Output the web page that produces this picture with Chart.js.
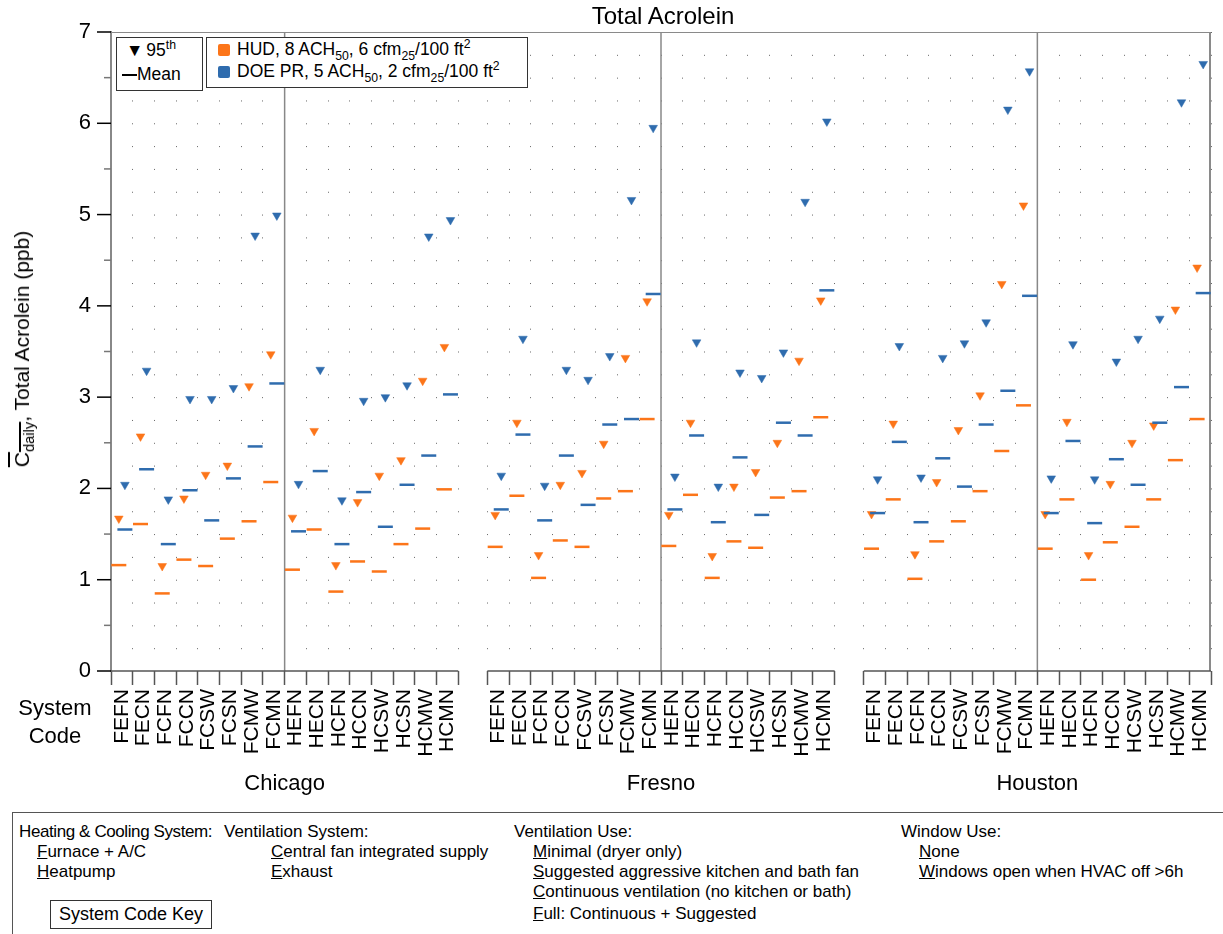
<!DOCTYPE html>
<html>
<head>
<meta charset="utf-8">
<script src="https://cdn.jsdelivr.net/npm/chart.js@4.4.1/dist/chart.umd.min.js"></script>
<style>
  body { margin: 0; background: #fff; font-family: Arial, "Liberation Sans", Helvetica, sans-serif; color: #000; }
  #wrap { position: relative; width: 1223px; height: 934px; overflow: hidden; }
  #chart { position: absolute; left: 0; top: 0; }
  .abs { position: absolute; white-space: nowrap; }
  .lg { position: absolute; border: 1px solid #333; background: #fff; font-size: 17.5px; }
  .sq { position: absolute; width: 12px; height: 12px; border-radius: 2px; }
  #key { position: absolute; left: 12px; top: 812px; width: 1300px; height: 200px;
         border-top: 1px solid #555; border-left: 1px solid #555; font-size: 17px; }
  #key .abs { line-height: 20px; }
  sub, sup { font-size: 70%; line-height: 0; }
</style>
</head>
<body>
<div id="wrap">
  <canvas id="chart" width="1223" height="810"></canvas>

  <div class="abs" style="left:663px; top:2px; transform:translateX(-50%); font-size:24px;">Total Acrolein</div>

  <div class="abs" style="left:22px; top:349px; transform:translate(-50%,-50%) rotate(-90deg); font-size:21px;">
    <span style="text-decoration:overline;">C<sub>daily</sub></span>, Total Acrolein (ppb)</div>

  <div class="lg" style="left:116px; top:37px; width:85px; height:52px;">
    <div class="abs" style="left:9px; top:2px;">&#9660;<span style="margin-left:3px">95<sup>th</sup></span></div>
    <div class="abs" style="left:5px; top:26px;"><span style="display:inline-block; width:15px; height:2px; background:#000; vertical-align:middle;"></span>Mean</div>
  </div>

  <div class="lg" style="left:206px; top:37px; width:320px; height:49px;">
    <div class="sq" style="left:11px; top:6px; background:#FC7519;"></div>
    <div class="abs" style="left:30px; top:1px;">HUD, 8 ACH<sub>50</sub>, 6 cfm<sub>25</sub>/100 ft<sup>2</sup></div>
    <div class="sq" style="left:11px; top:28px; background:#2F6CAE;"></div>
    <div class="abs" style="left:30px; top:23px;">DOE PR, 5 ACH<sub>50</sub>, 2 cfm<sub>25</sub>/100 ft<sup>2</sup></div>
  </div>

  <div class="abs" style="left:55px; top:694px; transform:translateX(-50%); font-size:22px; line-height:28px; text-align:center;">System<br>Code</div>

  <div id="key">
    <div class="abs" style="left:6px; top:9px; letter-spacing:-0.4px;">Heating &amp; Cooling System:</div>
    <div class="abs" style="left:24px; top:29px;"><u>F</u>urnace + A/C</div>
    <div class="abs" style="left:24px; top:49px;"><u>H</u>eatpump</div>
    <div class="abs" style="left:37px; top:87px; border:1px solid #333; padding:3px 8px; font-size:18px; line-height:21px;">System Code Key</div>

    <div class="abs" style="left:211px; top:9px;">Ventilation System:</div>
    <div class="abs" style="left:258px; top:29px;"><u>C</u>entral fan integrated supply</div>
    <div class="abs" style="left:258px; top:49px;"><u>E</u>xhaust</div>

    <div class="abs" style="left:501px; top:9px;">Ventilation Use:</div>
    <div class="abs" style="left:520px; top:29px;"><u>M</u>inimal (dryer only)</div>
    <div class="abs" style="left:520px; top:49px;"><u>S</u>uggested aggressive kitchen and bath fan</div>
    <div class="abs" style="left:520px; top:69px;"><u>C</u>ontinuous ventilation (no kitchen or bath)</div>
    <div class="abs" style="left:520px; top:91px;"><u>F</u>ull: Continuous + Suggested</div>

    <div class="abs" style="left:888px; top:9px;">Window Use:</div>
    <div class="abs" style="left:906px; top:29px;"><u>N</u>one</div>
    <div class="abs" style="left:906px; top:49px;"><u>W</u>indows open when HVAC off &gt;6h</div>
  </div>
</div>

<script>
// ---- data (ppb) ----
const cities = ['Chicago', 'Fresno', 'Houston'];
const codes = ['FEFN', 'FECN', 'FCFN', 'FCCN', 'FCSW', 'FCSN', 'FCMW', 'FCMN',
               'HEFN', 'HECN', 'HCFN', 'HCCN', 'HCSW', 'HCSN', 'HCMW', 'HCMN'];

// HUD, 8 ACH50 (orange)
const chicagoHud95   = [1.67, 2.57, 1.15, 1.89, 2.15, 2.25, 3.12, 3.47, 1.68, 2.63, 1.16, 1.85, 2.14, 2.31, 3.18, 3.55];
const chicagoHudMean = [1.16, 1.61, 0.85, 1.22, 1.15, 1.45, 1.64, 2.07, 1.11, 1.55, 0.87, 1.20, 1.09, 1.39, 1.56, 1.99];
const fresnoHud95    = [1.71, 2.72, 1.27, 2.04, 2.17, 2.49, 3.43, 4.05, 1.71, 2.72, 1.26, 2.02, 2.18, 2.50, 3.40, 4.06];
const fresnoHudMean  = [1.36, 1.92, 1.02, 1.43, 1.36, 1.89, 1.97, 2.76, 1.37, 1.93, 1.02, 1.42, 1.35, 1.90, 1.97, 2.78];
const houstonHud95   = [1.72, 2.71, 1.28, 2.07, 2.64, 3.02, 4.24, 5.10, 1.72, 2.73, 1.27, 2.05, 2.50, 2.69, 3.96, 4.42];
const houstonHudMean = [1.34, 1.88, 1.01, 1.42, 1.64, 1.97, 2.41, 2.91, 1.34, 1.88, 1.00, 1.41, 1.58, 1.88, 2.31, 2.76];

// DOE PR, 5 ACH50 (blue)
const chicagoDoe95   = [2.04, 3.29, 1.88, 2.98, 2.98, 3.10, 4.77, 4.99, 2.05, 3.30, 1.87, 2.96, 3.00, 3.13, 4.76, 4.94];
const chicagoDoeMean = [1.55, 2.21, 1.39, 1.98, 1.65, 2.11, 2.46, 3.15, 1.53, 2.19, 1.39, 1.96, 1.58, 2.04, 2.36, 3.03];
const fresnoDoe95    = [2.14, 3.64, 2.03, 3.30, 3.19, 3.45, 5.16, 5.95, 2.13, 3.60, 2.02, 3.27, 3.21, 3.49, 5.14, 6.02];
const fresnoDoeMean  = [1.77, 2.59, 1.65, 2.36, 1.82, 2.70, 2.76, 4.13, 1.77, 2.58, 1.63, 2.34, 1.71, 2.72, 2.58, 4.17];
const houstonDoe95   = [2.10, 3.56, 2.12, 3.43, 3.59, 3.82, 6.15, 6.57, 2.11, 3.58, 2.10, 3.39, 3.64, 3.86, 6.23, 6.65];
const houstonDoeMean = [1.73, 2.51, 1.63, 2.33, 2.02, 2.70, 3.07, 4.11, 1.73, 2.52, 1.62, 2.32, 2.04, 2.72, 3.11, 4.14];

const yTicksMax = 7;

// ---- layout of the category axis ----
const ORANGE = '#FC7519';
const BLUE = '#2F6CAE';
const GAP = 1.34;              // empty space between cities, in category widths
const SHIFT = 0.14;            // side-by-side offset of the two cases
const cityStart = cities.map((c, k) => k * (codes.length + GAP));
const xMax = cityStart[2] + codes.length;

function points(arrs, dx) {
    const out = [];
    arrs.forEach((arr, k) => {
        arr.forEach((v, i) => out.push({ x: cityStart[k] + i + 0.5 + dx, y: v }));
    });
    return out;
}

// ticks: boundaries (marks) + centres (labels)
const xTicks = [];
cityStart.forEach(s => {
    for (let i = 0; i <= codes.length; i++) xTicks.push({ value: s + i });
    codes.forEach((c, i) => xTicks.push({ value: s + i + 0.5, code: c }));
});
xTicks.sort((a, b) => a.value - b.value);

Chart.defaults.font.family = 'Arial, "Liberation Sans", Helvetica, sans-serif';
Chart.defaults.color = '#000';

const framePlugin = {
    id: 'frame',
    beforeDatasetsDraw(chart) {
        const { ctx, chartArea: a, scales: { x, y } } = chart;
        const line = (x1, y1, x2, y2) => { ctx.beginPath(); ctx.moveTo(x1, y1); ctx.lineTo(x2, y2); ctx.stroke(); };
        ctx.save();
        ctx.strokeStyle = '#8a8a8a';
        ctx.lineWidth = 1;
        line(a.left, a.top + 0.5, a.right, a.top + 0.5);
        ctx.lineWidth = 2;
        line(a.right - 1, a.top, a.right - 1, a.bottom);
        ctx.lineWidth = 1.5;
        ctx.strokeStyle = '#888';
        cityStart.forEach(s => {
            const px = x.getPixelForValue(s + codes.length / 2);
            line(px, a.top, px, a.bottom);
        });
        ctx.strokeStyle = '#555';
        ctx.lineWidth = 1.5;
        cityStart.forEach(s => line(x.getPixelForValue(s), a.bottom, x.getPixelForValue(s + codes.length), a.bottom));
        // y ticks: long black on integers, short grey on halves
        y.ticks.forEach(t => {
            const py = y.getPixelForValue(t.value);
            const major = Number.isInteger(t.value);
            ctx.strokeStyle = major ? '#000' : '#777';
            line(a.left - (major ? 14 : 7), py, a.left, py);
        });
        ctx.restore();
    },
    afterDraw(chart) {
        const { ctx, scales: { x } } = chart;
        ctx.save();
        ctx.font = '22px Arial, "Liberation Sans", sans-serif';
        ctx.fillStyle = '#000';
        ctx.textAlign = 'center';
        ctx.textBaseline = 'middle';
        cities.forEach((c, k) => ctx.fillText(c, x.getPixelForValue(cityStart[k] + codes.length / 2), 784));
        ctx.restore();
    }
};

const quarterPx = 639 / (yTicksMax * 4);

new Chart(document.getElementById('chart'), {
    type: 'scatter',
    data: {
        datasets: [
            { label: 'HUD mean', data: points([chicagoHudMean, fresnoHudMean, houstonHudMean], -SHIFT),
              pointStyle: 'line', radius: 7.5, borderWidth: 2.5, borderColor: ORANGE, backgroundColor: ORANGE },
            { label: 'DOE mean', data: points([chicagoDoeMean, fresnoDoeMean, houstonDoeMean], SHIFT),
              pointStyle: 'line', radius: 7.5, borderWidth: 2.5, borderColor: BLUE, backgroundColor: BLUE },
            { label: 'HUD 95th', data: points([chicagoHud95, fresnoHud95, houstonHud95], -SHIFT),
              pointStyle: 'triangle', rotation: 180, radius: 5, borderWidth: 0.5, borderColor: ORANGE, backgroundColor: ORANGE },
            { label: 'DOE 95th', data: points([chicagoDoe95, fresnoDoe95, houstonDoe95], SHIFT),
              pointStyle: 'triangle', rotation: 180, radius: 5, borderWidth: 0.5, borderColor: BLUE, backgroundColor: BLUE }
        ]
    },
    options: {
        responsive: false,
        animation: false,
        layout: { padding: { top: 32, right: 12, left: 0, bottom: 0 } },
        plugins: { legend: { display: false }, tooltip: { enabled: false } },
        scales: {
            x: {
                type: 'linear',
                min: 0,
                max: xMax,
                afterBuildTicks: s => { s.ticks = xTicks.map(t => ({ value: t.value, code: t.code })); },
                afterFit: s => {
                    s.height = 810 - 32 - 639;
                    s.paddingLeft = 0;
                    s.paddingRight = 0;
                },
                ticks: {
                    autoSkip: false,
                    minRotation: 90,
                    maxRotation: 90,
                    padding: 4,
                    font: { size: 21 },
                    color: '#000',
                    callback: (v, i, ticks) => ticks[i].code || ''
                },
                grid: {
                    drawOnChartArea: true,
                    color: c => (c.tick && c.tick.code) ? 'rgba(0,0,0,0)' : '#666',
                    tickColor: c => (c.tick && c.tick.code) ? 'rgba(0,0,0,0)' : '#555',
                    tickLength: 14,
                    lineWidth: 1,
                    tickWidth: 1.5
                },
                border: { display: false, dash: [1, quarterPx - 1] }
            },
            y: {
                min: 0,
                max: yTicksMax,
                afterFit: s => { s.width = 111; },
                ticks: {
                    stepSize: 0.5,
                    padding: 6,
                    font: { size: 22 },
                    color: '#000',
                    callback: v => Number.isInteger(v) ? v : ''
                },
                grid: { drawOnChartArea: false, tickLength: 14, tickColor: 'rgba(0,0,0,0)' },
                border: { color: '#888', width: 2 }
            }
        }
    },
    plugins: [framePlugin]
});
</script>
</body>
</html>
